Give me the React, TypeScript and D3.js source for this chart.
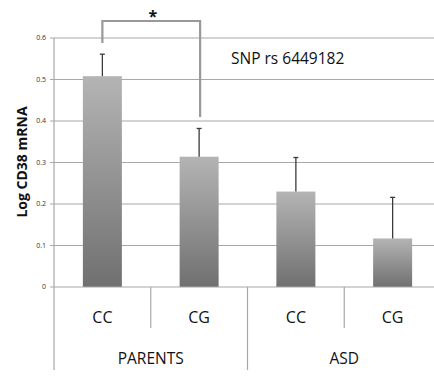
import React from "react";
import * as d3 from "d3";

const categories = ["CC", "CG", "CC", "CG"];
const groups = ["PARENTS", "ASD"];
const values = [0.508, 0.314, 0.23, 0.117];
const errors = [0.053, 0.068, 0.082, 0.099];
const yTicks = [0, 0.1, 0.2, 0.3, 0.4, 0.5, 0.6];
const yTickLabels = ["0", "0.1", "0.2", "0.3", "0.4", "0.5", "0.6"];
const annotation = "SNP rs 6449182";
const yLabel = "Log CD38 mRNA";

export default function App() {
  const W = 434, H = 381;
  const left = 54, right = 441, top = 38, bottom = 287;
  const x = d3.scaleBand<number>().domain(d3.range(categories.length)).range([left, right]).paddingInner(0).paddingOuter(0);
  const y = d3.scaleLinear().domain([0, 0.6]).range([bottom, top]);
  const bw = 39;
  const font = "'Open Sans', sans-serif";
  const cx = (i: number) => (x(i) as number) + x.bandwidth() / 2;
  const grey = "#a8a8a8";
  const bx1 = cx(0), bx2 = cx(1);
  const bracketY = 21;
  return (
    <svg width={W} height={H} style={{ position: "absolute", left: 0, top: 0, background: "#fff" }} fontFamily={font}>
      <defs>
        <linearGradient id="barGrad" x1="0" y1="0" x2="0" y2="1">
          <stop offset="0" stopColor="#b4b4b4" />
          <stop offset="1" stopColor="#707070" />
        </linearGradient>
      </defs>
      {yTicks.map((t, i) => (
        <g key={i}>
          {t > 0 && <line x1={left} x2={W} y1={y(t)} y2={y(t)} stroke={grey} strokeWidth={1.2} />}
          <line x1={left - 4} x2={left} y1={y(t)} y2={y(t)} stroke={grey} strokeWidth={1} />
          <text x={left - 8} y={y(t)} dy="0.35em" textAnchor="end" fontSize={7} fill="#333">{yTickLabels[i]}</text>
        </g>
      ))}
      {values.map((v, i) => (
        <rect key={i} x={cx(i) - bw / 2} y={y(v)} width={bw} height={bottom - y(v)} fill="url(#barGrad)" />
      ))}
      {values.map((v, i) => (
        <g key={"e" + i} stroke="#3a3a3a" strokeWidth={1.3}>
          <line x1={cx(i)} x2={cx(i)} y1={y(v)} y2={y(v + errors[i])} />
          <line x1={cx(i) - 2.5} x2={cx(i) + 2.5} y1={y(v + errors[i])} y2={y(v + errors[i])} />
        </g>
      ))}
      <line x1={left} x2={W} y1={bottom} y2={bottom} stroke={grey} strokeWidth={1.2} />
      <line x1={left} x2={left} y1={top} y2={370} stroke={grey} strokeWidth={1.2} />
      {categories.map((c, i) => (
        <g key={"c" + i}>
          <text x={cx(i)} y={317} dy="0.35em" textAnchor="middle" fontSize={16} fill="#111">{c}</text>
          {i > 0 && (
            <line x1={x(i) as number} x2={x(i) as number} y1={bottom} y2={i === 2 ? 370 : 328} stroke={grey} strokeWidth={1.2} />
          )}
        </g>
      ))}
      {groups.map((g, gi) => (
        <text key={g} x={((x(gi * 2) as number) + (x(gi * 2 + 1) as number) + x.bandwidth()) / 2} y={359} dy="0.35em" textAnchor="middle" fontSize={15.5} fill="#111">{g}</text>
      ))}
      <path d={`M${bx1},43 V${bracketY} H${bx2 + 1} V117`} fill="none" stroke="#999" strokeWidth={2.2} />
      <text x={(bx1 + bx2) / 2 + 2} y={22} textAnchor="middle" fontSize={16} fontWeight="bold" fill="#111">*</text>
      <text x={231} y={64} fontSize={15.5} fill="#111">{annotation}</text>
      <text transform={`translate(27,162) rotate(-90)`} textAnchor="middle" fontSize={14} fontWeight="bold" fill="#111">{yLabel}</text>
    </svg>
  );
}
